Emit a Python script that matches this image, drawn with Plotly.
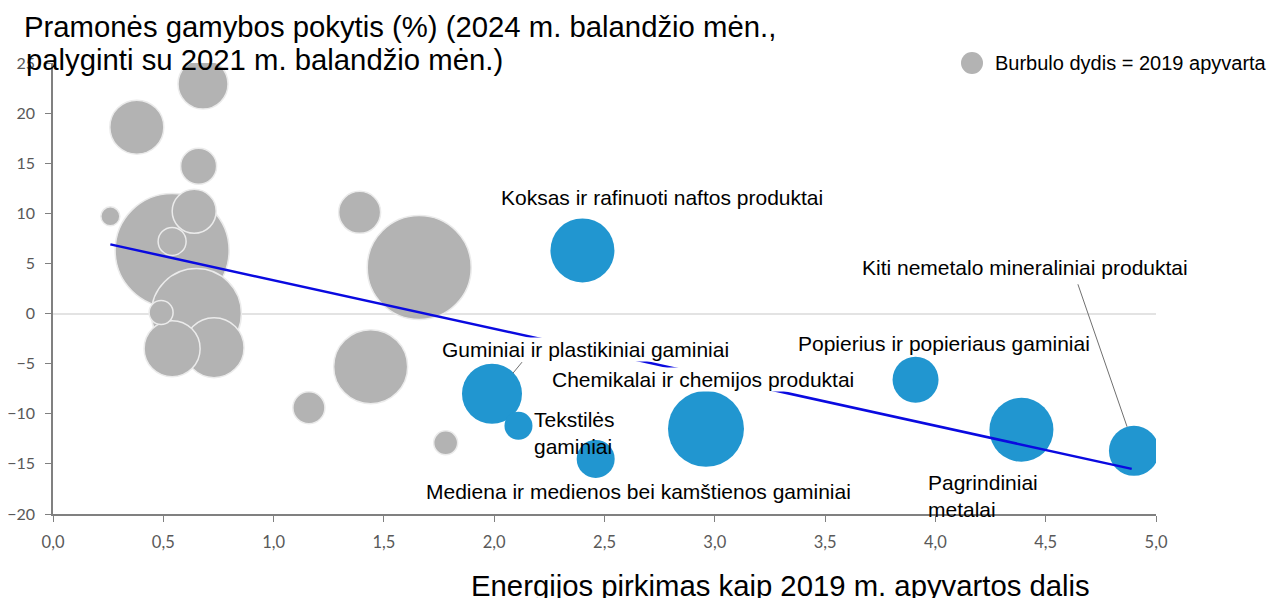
import plotly.graph_objects as go

# ---- data ----
# Highlighted (blue) sectors
blue_names = [
    "Koksas ir rafinuoti naftos produktai",
    "Guminiai ir plastikiniai gaminiai",
    "Tekstilės gaminiai",
    "Mediena ir medienos bei kamštienos gaminiai",
    "Chemikalai ir chemijos produktai",
    "Popierius ir popieriaus gaminiai",
    "Pagrindiniai metalai",
    "Kiti nemetalo mineraliniai produktai",
]
blue_energy = [2.40, 1.99, 2.11, 2.46, 2.96, 3.91, 4.39, 4.90]
blue_change = [6.3, -8.0, -11.2, -14.5, -11.5, -6.6, -11.6, -13.7]
blue_turnover = [1024, 900, 196, 361, 1444, 529, 1024, 625]

# Other (grey) sectors
grey_energy = [0.54, 1.66, 0.65, 1.44, 0.73, 0.54, 0.38, 0.68, 0.64, 1.39, 0.66, 1.16, 0.54, 0.49, 1.78, 0.26]
grey_change = [6.3, 4.6, 0.0, -5.3, -3.4, -3.5, 18.6, 22.9, 10.2, 10.1, 14.7, -9.4, 7.2, 0.1, -12.9, 9.7]
grey_turnover = [3249, 2704, 2025, 1369, 900, 784, 729, 625, 484, 441, 324, 256, 196, 144, 144, 90]

# Trend line end points
trend_energy = [0.26, 4.89]
trend_change = [6.9, -15.5]

x_ticks = [0.0, 0.5, 1.0, 1.5, 2.0, 2.5, 3.0, 3.5, 4.0, 4.5, 5.0]
y_ticks = [-20, -15, -10, -5, 0, 5, 10, 15, 20, 25]

title_line1 = "Pramonės gamybos pokytis (%) (2024 m. balandžio mėn.,"
title_line2 = "palyginti su 2021 m. balandžio mėn.)"
x_title = "Energijos pirkimas kaip 2019 m. apyvartos dalis"
legend_text = "Burbulo dydis = 2019 apyvarta"

GREY = "#b3b3b3"
BLUE = "#2196d0"
TXT_FONT = "Arial, Liberation Sans, sans-serif"
TICK_FONT = "Lato, Open Sans, sans-serif"

# plot area in page pixels (page body has an 8px margin)
PX0, PX1, PY0, PY1 = 53, 1156, 63, 514
def px(p):
    return (p - PX0) / (PX1 - PX0)
def py(p):
    return (PY1 - p) / (PY1 - PY0)

fig = go.Figure()

fig.add_trace(go.Scatter(
    x=grey_energy, y=grey_change, mode="markers",
    marker=dict(size=grey_turnover, sizemode="area", sizeref=0.5,
                color=GREY, opacity=1, line=dict(color="#ebebeb", width=1.5)),
    showlegend=False, hoverinfo="x+y",
))

fig.add_trace(go.Scatter(
    x=blue_energy, y=blue_change, mode="markers", text=blue_names,
    marker=dict(size=blue_turnover, sizemode="area", sizeref=0.5,
                color=BLUE, opacity=1, line=dict(color=BLUE, width=0)),
    showlegend=False,
))

fig.add_trace(go.Scatter(
    x=trend_energy, y=trend_change, mode="lines",
    line=dict(color="#0a0ae0", width=2.5),
    showlegend=False, hoverinfo="skip",
))

annotations = []
F = dict(family=TXT_FONT, size=21, color="#000000")

def ann(text, x, y, xanchor="center", bg=None, align="center"):
    d = dict(text=text, x=x, y=y, xref="x", yref="y", showarrow=False,
             font=F, xanchor=xanchor, yanchor="middle", align=align, borderpad=0)
    if bg:
        d.update(bgcolor=bg)
    annotations.append(d)

ann(blue_names[0], 2.761, 11.58)
ann("Guminiai ir plastikiniai gaminiai", 2.412, -3.6, bg="white")
ann("Tekstilės<br>gaminiai", 2.175, -11.96, xanchor="left", align="left")
ann(blue_names[3], 2.652, -17.8)
ann("Chemikalai ir chemijos produktai", 2.947, -6.6, bg="white")
ann(blue_names[5], 4.039, -3.03)
ann("Pagrindiniai<br>metalai", 3.96, -18.25, xanchor="left", align="left")
ann(blue_names[7], 4.406, 4.55)

BIG = dict(family=TXT_FONT, size=29.3, color="#000000")
annotations.append(dict(text=title_line1, xref="paper", yref="paper",
                        x=px(22), y=py(27), xanchor="left", yanchor="middle",
                        showarrow=False, font=BIG))
annotations.append(dict(text=title_line2, xref="paper", yref="paper",
                        x=px(24), y=py(59), xanchor="left", yanchor="middle",
                        showarrow=False, font=BIG))
annotations.append(dict(text=x_title, xref="paper", yref="paper",
                        x=px(780), y=py(585), xanchor="center", yanchor="middle",
                        showarrow=False, font=BIG))
# legend text
annotations.append(dict(text=legend_text, xref="paper", yref="paper",
                        x=px(993), y=py(63), xanchor="left", yanchor="middle",
                        showarrow=False, font=dict(family=TXT_FONT, size=20, color="#000000")))

shapes = [
    dict(type="line", xref="x", yref="y", x0=4.646, y0=2.92, x1=4.869, y1=-11.3,
         line=dict(color="#707070", width=1)),
    dict(type="line", xref="x", yref="y", x0=2.085, y0=-5.95, x1=2.126, y1=-4.85,
         line=dict(color="#707070", width=1)),
    # legend symbol
    dict(type="circle", xref="paper", yref="paper",
         x0=px(961), x1=px(983), y0=py(52), y1=py(74),
         fillcolor=GREY, line=dict(width=0)),
]

fig.update_layout(
    width=1275, height=590,
    margin=dict(l=45, r=127, t=55, b=84, autoexpand=False),
    paper_bgcolor="white", plot_bgcolor="white",
    separators=",.",
    showlegend=False,
    annotations=annotations,
    shapes=shapes,
    xaxis=dict(range=[0, 5], tickvals=x_ticks, tickformat=".1f", automargin=False,
               showgrid=False, zeroline=False,
               showline=True, linecolor="#808080", linewidth=1.5,
               ticks="outside", ticklen=6, tickcolor="#808080", tickwidth=1,
               ticklabelstandoff=6,
               tickfont=dict(family=TICK_FONT, size=16.5, color="#595959")),
    yaxis=dict(range=[-20, 25], tickvals=y_ticks, automargin=False,
               showgrid=False, zeroline=True, zerolinecolor="#e3e3e3", zerolinewidth=1.5,
               showline=True, linecolor="#808080", linewidth=1.5,
               ticks="outside", ticklen=6, tickcolor="#808080", tickwidth=1,
               ticklabelstandoff=7,
               tickfont=dict(family=TICK_FONT, size=16, color="#595959")),
)

fig.write_html("out.html")
